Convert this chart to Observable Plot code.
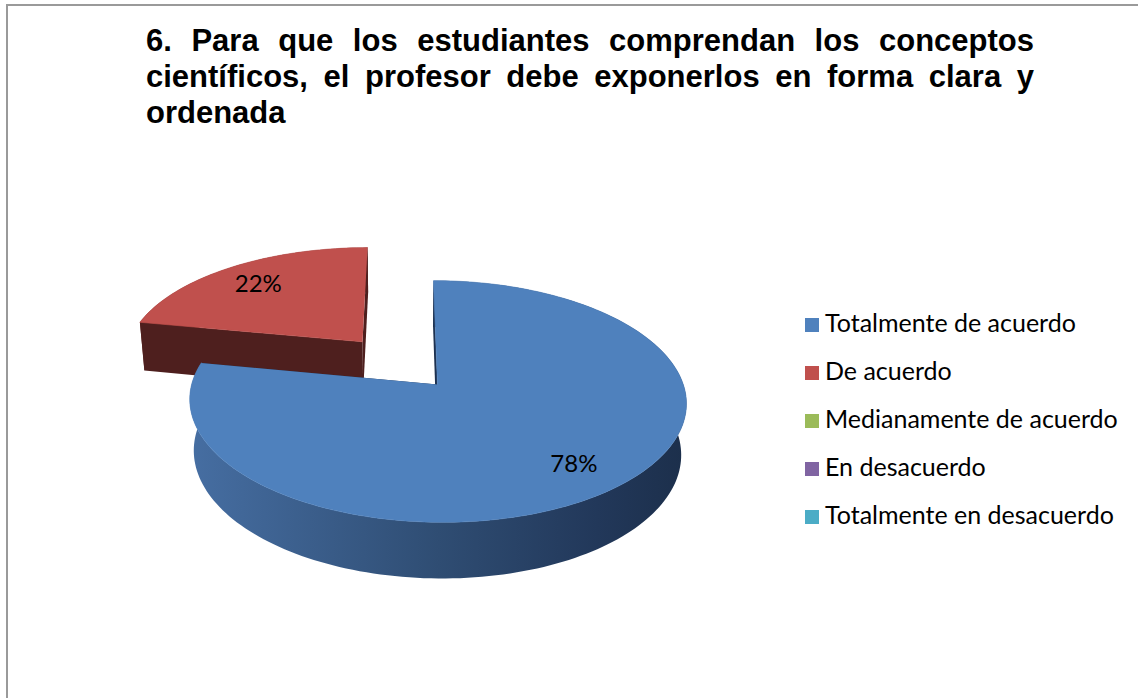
<!DOCTYPE html>
<html><head><meta charset="utf-8">
<script src="https://cdn.jsdelivr.net/npm/d3@7"></script>
<script src="https://cdn.jsdelivr.net/npm/@observablehq/plot@0.6"></script>
<style>
html,body{margin:0;padding:0;background:#fff;}
#wrap{position:relative;width:1138px;height:698px;overflow:hidden;background:#fff;}
#frame{position:absolute;left:6px;top:4px;width:1300px;height:900px;border-top:2px solid #9a9a9a;border-left:2px solid #9a9a9a;pointer-events:none;}
#header{position:relative;height:140px;}
#title{position:absolute;left:146px;top:23px;width:888px;font:bold 31px "Liberation Sans",Arial,sans-serif;line-height:36px;text-align:justify;color:#000;}
#chart{position:relative;height:558px;}
.sw{position:absolute;width:14px;height:14px;}
.lt{position:absolute;font:25px Lato,sans-serif;line-height:30px;color:#000;white-space:nowrap;}
</style></head><body>
<div id="wrap"><div id="header"><div id="title"></div></div><div id="chart"></div><div id="legend"></div><div id="frame"></div></div>
<script>
const titleText = "6. Para que los estudiantes comprendan los conceptos científicos, el profesor debe exponerlos en forma clara y ordenada";
const categories = ["Totalmente de acuerdo", "De acuerdo", "Medianamente de acuerdo", "En desacuerdo", "Totalmente en desacuerdo"];
const values = [78, 22, 0, 0, 0];
const colors = ["#4f81bd", "#c0504d", "#9bbb59", "#8064a2", "#4bacc6"];
const sideColors = ["url(#sideGrad0)", "#6a2826", "#5d7135", "#4c3c61", "#2d6776"];
const cutColors = ["#1d3150", "#4e1f1e", "#3a4722", "#30253d", "#1c414b"];
const explodeAmounts = [0, 0.493, 0, 0, 0];

document.getElementById("title").textContent = titleText;

// 3D perspective view settings
const TILT = 28.8 * Math.PI / 180, DIST = 6.24, THICK = 0.241, CAMX = -0.13;
const FOCAL = 1534, VX = 405, CY = 384, HEADER = 140, W = 1138, H = 698 - HEADER;

function proj(X, Y, Z) {
  const xc = X - CAMX;
  const yc = Y * Math.cos(TILT) + Z * Math.sin(TILT);
  const zc = DIST + Z * Math.cos(TILT) - Y * Math.sin(TILT);
  return {u: xc / zc, v: yc / zc};
}

const total = d3.sum(values);
let acc = 0;
const slices = categories.map((c, i) => {
  const a0 = acc / total * 2 * Math.PI; acc += values[i];
  const a1 = acc / total * 2 * Math.PI;
  const mid = (a0 + a1) / 2, e = explodeAmounts[i];
  return {i, c, value: values[i], a0, a1, mid, ox: e * Math.sin(mid), oz: e * Math.cos(mid)};
}).filter(s => s.value > 0);

function rim(s, a, Y) { return proj(s.ox + Math.sin(a), Y, s.oz + Math.cos(a)); }
function ctr(s, Y) { return proj(s.ox, Y, s.oz); }
function arc(s, Y, rev) {
  const n = Math.max(2, Math.ceil((s.a1 - s.a0) / (2 * Math.PI) * 240));
  const pts = [];
  for (let k = 0; k <= n; k++) pts.push(rim(s, s.a0 + (s.a1 - s.a0) * k / n, Y));
  return rev ? pts.reverse() : pts;
}

const order = slices.slice().sort((a, b) => b.oz - a.oz);
const marks = [];
for (const s of order) {
  const side = [...arc(s, 0, false), ...arc(s, -THICK, true)];
  const cut0 = [ctr(s, 0), rim(s, s.a0, 0), rim(s, s.a0, -THICK), ctr(s, -THICK)];
  const cut1 = [ctr(s, 0), rim(s, s.a1, 0), rim(s, s.a1, -THICK), ctr(s, -THICK)];
  const top = [ctr(s, 0), ...arc(s, 0, false)];
  marks.push(Plot.line(side, {x: "u", y: "v", fill: sideColors[s.i], stroke: "none", curve: "linear"}));
  marks.push(Plot.line(cut0, {x: "u", y: "v", fill: cutColors[s.i], stroke: "none", curve: "linear"}));
  marks.push(Plot.line(cut1, {x: "u", y: "v", fill: cutColors[s.i], stroke: "none", curve: "linear"}));
  marks.push(Plot.line(top, {x: "u", y: "v", fill: colors[s.i], stroke: colors[s.i], strokeWidth: 0.6, curve: "linear"}));
}
const labelR = 0.78;
const labelData = slices.map(s => {
  const p = proj(s.ox + labelR * Math.sin(s.mid), 0, s.oz + labelR * Math.cos(s.mid));
  return {...p, label: Math.round(s.value / total * 100) + "%"};
});
marks.push(Plot.text(labelData, {x: "u", y: "v", text: "label", fontSize: 24, fontFamily: "Lato, sans-serif", fill: "#000", dy: 2}));

const svg = Plot.plot({
  width: W, height: H, margin: 0,
  x: {domain: [(0 - VX) / FOCAL, (W - VX) / FOCAL], range: [0, W], axis: null},
  y: {domain: [(CY - HEADER - H) / FOCAL, (CY - HEADER) / FOCAL], range: [H, 0], axis: null},
  style: {background: "transparent", overflow: "visible"},
  marks
});
const NS = "http://www.w3.org/2000/svg";
const defs = document.createElementNS(NS, "defs");
const grad = document.createElementNS(NS, "linearGradient");
grad.setAttribute("id", "sideGrad0");
grad.setAttribute("x1", "0"); grad.setAttribute("y1", "0"); grad.setAttribute("x2", "1"); grad.setAttribute("y2", "0");
[[0, "#466ea2"], [0.5, "#2f4d73"], [0.82, "#22385a"], [1, "#1c2f4b"]].forEach(([o, c]) => {
  const st = document.createElementNS(NS, "stop");
  st.setAttribute("offset", o); st.setAttribute("stop-color", c);
  grad.appendChild(st);
});
defs.appendChild(grad);
svg.insertBefore(defs, svg.firstChild);
document.getElementById("chart").appendChild(svg);

// legend
const legend = document.getElementById("legend");
categories.forEach((c, i) => {
  const cy = 324.5 + 48 * i;
  const sw = document.createElement("div");
  sw.className = "sw"; sw.style.left = "805px"; sw.style.top = (cy - 7) + "px"; sw.style.background = colors[i];
  const t = document.createElement("div");
  t.className = "lt"; t.style.left = "825px"; t.style.top = (cy - 17.5) + "px"; t.textContent = c;
  legend.appendChild(sw); legend.appendChild(t);
});
</script>
</body></html>
